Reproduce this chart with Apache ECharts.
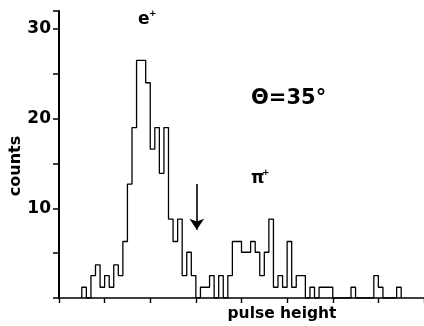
<!DOCTYPE html>
<html>
<head>
<meta charset="utf-8">
<script src="https://cdn.jsdelivr.net/npm/echarts@6/dist/echarts.min.js"></script>
<style>
html,body{margin:0;padding:0;background:#fff;}
#chart{width:424px;height:326px;}
</style>
</head>
<body>
<div id="chart"></div>
<script>
// Histogram bin values (counts), bins of unit width starting at binStart
const binStart = -5;
const counts = [1.2,0,2.5,3.7,1.2,2.5,1.2,3.7,2.5,6.3,12.7,19,26.5,26.5,24,16.6,19,13.9,19,8.8,6.3,8.8,2.5,5.1,2.5,0,1.2,1.2,2.5,0,2.5,0,2.5,6.3,6.3,5.1,5.1,6.3,5.1,2.5,5.1,8.8,1.2,2.5,1.2,6.3,1.2,2.5,2.5,0,1.2,0,1.2,1.2,1.2,0,0,0,0,1.2,0,0,0,0,2.5,1.2,0,0,0,1.2];
const yTickLabels = [10, 20, 30];
const arrowX = 20.2;
const arrowFrom = 12.7;
const arrowTo = 7.6;

// Step outline
const outline = [[binStart, 0]];
counts.forEach((c, i) => outline.push([binStart + i, c]));
outline.push([binStart + counts.length, counts[counts.length - 1]]);
outline.push([binStart + counts.length, 0]);

const chart = echarts.init(document.getElementById('chart'), null, {renderer: 'canvas'});
const FONT = 'DejaVu Sans';
chart.setOption({
  animation: false,
  backgroundColor: '#fff',
  grid: {left: 59, right: 0, top: 11, bottom: 28},
  xAxis: {
    type: 'value', min: -10, max: 70, interval: 10,
    axisLine: {show: true, onZero: false, lineStyle: {color: '#000', width: 1.6}},
    axisTick: {show: true, inside: false, length: 5, lineStyle: {color: '#000', width: 1.4}},
    axisLabel: {show: false},
    splitLine: {show: false}
  },
  yAxis: {
    type: 'value', min: 0, max: 32, interval: 5,
    axisLine: {show: true, onZero: false, lineStyle: {color: '#000', width: 2}},
    axisTick: {show: true, inside: false, length: 6, lineStyle: {color: '#000', width: 1.5}},
    axisLabel: {
      show: true, margin: 8, color: '#000', fontFamily: FONT, fontWeight: 'bold', fontSize: 17,
      formatter: v => (yTickLabels.indexOf(v) >= 0 ? String(v) : '')
    },
    splitLine: {show: false}
  },
  series: [{
    type: 'line',
    data: outline,
    step: 'end',
    symbol: 'none',
    lineStyle: {color: '#000', width: 1.3},
    markLine: {
      silent: true,
      symbol: ['none', 'arrow'],
      symbolSize: 11,
      label: {show: false},
      lineStyle: {color: '#000', width: 1.6, type: 'solid'},
      data: [[{coord: [arrowX, arrowFrom]}, {coord: [arrowX, arrowTo]}]]
    }
  }],
  graphic: [
    {type: 'text', left: 138, top: 11, style: {text: 'e', font: 'bold 17px "DejaVu Sans"', fill: '#000'}},
    {type: 'text', left: 149, top: 9, style: {text: '+', font: 'bold 9px "DejaVu Sans"', fill: '#000'}},
    {type: 'text', left: 251, top: 170, style: {text: 'π', font: 'bold 17px "DejaVu Sans"', fill: '#000'}},
    {type: 'text', left: 262, top: 168, style: {text: '+', font: 'bold 9px "DejaVu Sans"', fill: '#000'}},
    {type: 'text', left: 251, top: 88, style: {text: 'Θ=35°', font: 'bold 21px "DejaVu Sans"', fill: '#000'}},
    {type: 'text', x: 282, y: 314, style: {text: 'pulse height', font: 'bold 15.5px "DejaVu Sans"', fill: '#000', align: 'center', verticalAlign: 'middle'}},
    {type: 'text', x: 16, y: 166, rotation: Math.PI / 2, style: {text: 'counts', font: 'bold 16px "DejaVu Sans"', fill: '#000', align: 'center', verticalAlign: 'middle'}}
  ]
});
</script>
</body>
</html>
